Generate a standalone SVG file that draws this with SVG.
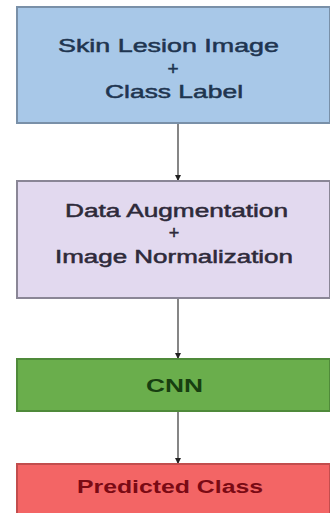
<svg xmlns="http://www.w3.org/2000/svg" width="330" height="513" viewBox="0 0 330 513">
<style>
text{font-family:"Liberation Sans",Arial,sans-serif;text-anchor:middle}
.t1{fill:#1f3550;stroke:#1f3550;stroke-width:0.5;font-size:19px}
.t2{fill:#2e2a3a;stroke:#2e2a3a;stroke-width:0.5;font-size:18px}
.t3{fill:#173f10;font-weight:bold;font-size:19px}
.t4{fill:#7a0a14;font-weight:bold;font-size:18px}
.conn line{stroke:#444;stroke-width:1.3}
</style>
<defs>
<marker id="ah" viewBox="0 0 6 6" refX="5" refY="3" markerWidth="5" markerHeight="5" orient="auto">
<path d="M0,0 L6,3 L0,6 z" fill="#222"/>
</marker>
</defs>
<rect width="330" height="513" fill="#ffffff"/>
<g id="connectors" class="conn">
<line x1="178" y1="123" x2="178" y2="180" marker-end="url(#ah)"/>
<line x1="178" y1="298" x2="178" y2="358" marker-end="url(#ah)"/>
<line x1="178" y1="411" x2="178" y2="463" marker-end="url(#ah)"/>
</g>
<g id="node-input">
<rect x="17" y="7" width="313" height="116" fill="#a8c8e8" stroke="#7990a8" stroke-width="2"/>
<text class="t1" x="168.5" y="52" textLength="221" lengthAdjust="spacingAndGlyphs">Skin Lesion Image</text>
<text class="t1" x="173" y="75">+</text>
<text class="t1" x="174" y="98" textLength="138" lengthAdjust="spacingAndGlyphs">Class Label</text>
</g>
<g id="node-preprocess">
<rect x="17" y="181" width="313" height="117" fill="#e2d9ef" stroke="#8a8696" stroke-width="2"/>
<text class="t2" x="176.5" y="217" textLength="223" lengthAdjust="spacingAndGlyphs">Data Augmentation</text>
<text class="t2" x="174" y="239">+</text>
<text class="t2" x="174" y="263" textLength="238" lengthAdjust="spacingAndGlyphs">Image Normalization</text>
</g>
<g id="node-cnn">
<rect x="17" y="359" width="313" height="52" fill="#6aae4c" stroke="#4f8a3a" stroke-width="2"/>
<text class="t3" x="174.5" y="392" textLength="57" lengthAdjust="spacingAndGlyphs">CNN</text>
</g>
<g id="node-output">
<rect x="17" y="464" width="313" height="52" fill="#f36565" stroke="#c24d4d" stroke-width="2"/>
<text class="t4" x="170" y="493" textLength="186" lengthAdjust="spacingAndGlyphs">Predicted Class</text>
</g>
</svg>
